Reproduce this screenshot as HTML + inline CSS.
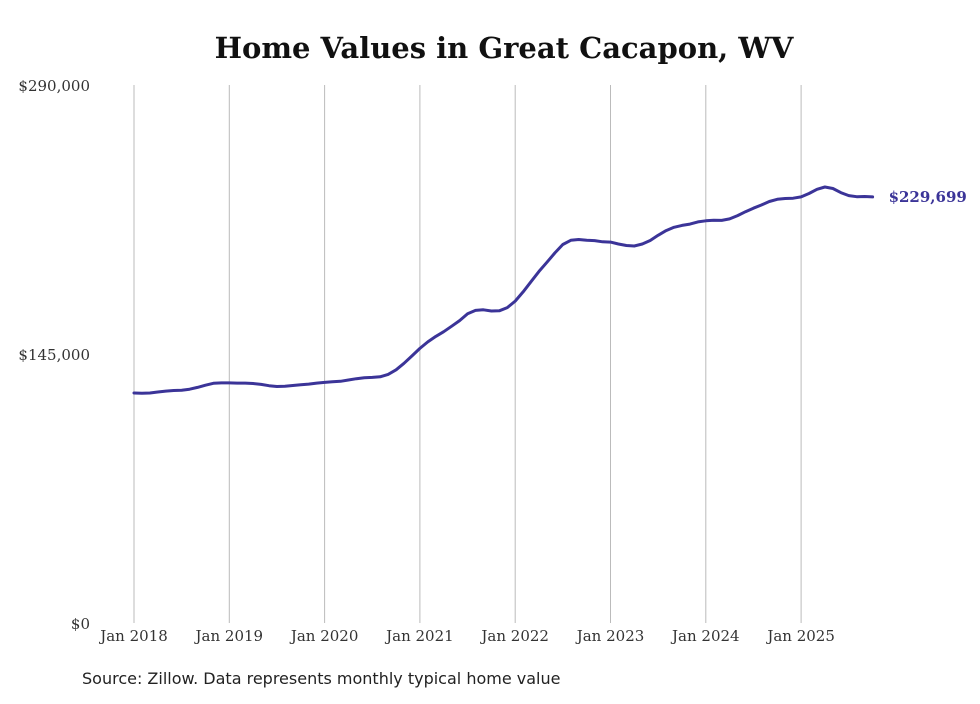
<!DOCTYPE html>
<html><head><meta charset="utf-8"><style>
body{margin:0;background:#fff;}
svg text{font-family:"DejaVu Serif","Liberation Serif",serif;}
</style></head><body>
<svg id="chart" width="980" height="699" viewBox="0 0 980 699" xmlns="http://www.w3.org/2000/svg">
<rect width="980" height="699" fill="#fff"/>
<text x="504" y="58" text-anchor="middle" font-size="29" font-weight="bold" fill="#111">Home Values in Great Cacapon, WV</text>
<g id="grid"></g>
<g id="yaxis"></g>
<g id="xaxis"></g>
<g id="series"></g>
<text x="82" y="684" font-size="16" fill="#222" style='font-family:"DejaVu Sans",sans-serif'>Source: Zillow. Data represents monthly typical home value</text>
</svg>
<script>
const yTicks = [0, 145000, 290000];
const yTickLabels = ["$0", "$145,000", "$290,000"];
const xYears = [2018, 2019, 2020, 2021, 2022, 2023, 2024, 2025];
const xTickLabels = ["Jan 2018","Jan 2019","Jan 2020","Jan 2021","Jan 2022","Jan 2023","Jan 2024","Jan 2025"];
const startYear = 2018;
const values = [
124000,123800,124000,124500,125000,125300,125500,126000,127000,128200,129200,129400,
129400,129300,129300,129100,128600,127900,127500,127600,128000,128400,128800,129300,
129700,130000,130300,131000,131700,132200,132400,132700,134000,136500,140000,144000,
148000,151500,154500,157000,160000,163000,166700,168500,168800,168200,168300,170000,
173500,178500,184000,189500,194500,199500,204000,206300,206700,206300,206100,205500,
205300,204300,203500,203200,204300,206200,209000,211500,213300,214300,215000,216200,
216800,217100,217000,217800,219600,221700,223600,225300,227200,228400,228800,229000,
229700,231500,233800,235000,234200,232000,230400,229800,229900,229699
];
const lastLabel = "$229,699";

const NS="http://www.w3.org/2000/svg";
const y0=623, y1=85, yMax=290000;
const xLeft=134, pxPerYear=95.3;
const yScale=v=>y0-(v/yMax)*(y0-y1);
const xScale=m=>xLeft+(m/12)*pxPerYear;
function mk(tag,attrs,parent){const e=document.createElementNS(NS,tag);for(const k in attrs)e.setAttribute(k,attrs[k]);parent.appendChild(e);return e;}
const grid=document.getElementById('grid'),xa=document.getElementById('xaxis'),ya=document.getElementById('yaxis'),ser=document.getElementById('series');
xYears.forEach((yr,i)=>{
  const x=xScale((yr-startYear)*12);
  const l=mk('line',{x1:x,x2:x,y1:y1,y2:y0,stroke:'#bbb','stroke-width':1},grid);
  
  
  const t=mk('text',{x:x,y:641,'text-anchor':'middle','font-size':15,fill:'#333'},xa);
  t.textContent=xTickLabels[i];
  
  
});
yTicks.forEach((v,i)=>{
  const t=mk('text',{x:90,y:yScale(v)+6,'text-anchor':'end','font-size':15,fill:'#333'},ya);
  t.textContent=yTickLabels[i];
  
  
});
const d=values.map((v,i)=>(i?'L':'M')+xScale(i).toFixed(1)+','+yScale(v).toFixed(1)).join(' ');
const p=mk('path',{d:d,fill:'none',stroke:'#3b3498','stroke-width':3,'stroke-linejoin':'round','stroke-linecap':'round'},ser);


const li=values.length-1;
const lt=mk('text',{x:xScale(li)+16,y:yScale(values[li])+5,'font-size':15,'font-weight':'bold',fill:'#3b3498'},ser);
lt.textContent=lastLabel;


</script>
</body></html>
